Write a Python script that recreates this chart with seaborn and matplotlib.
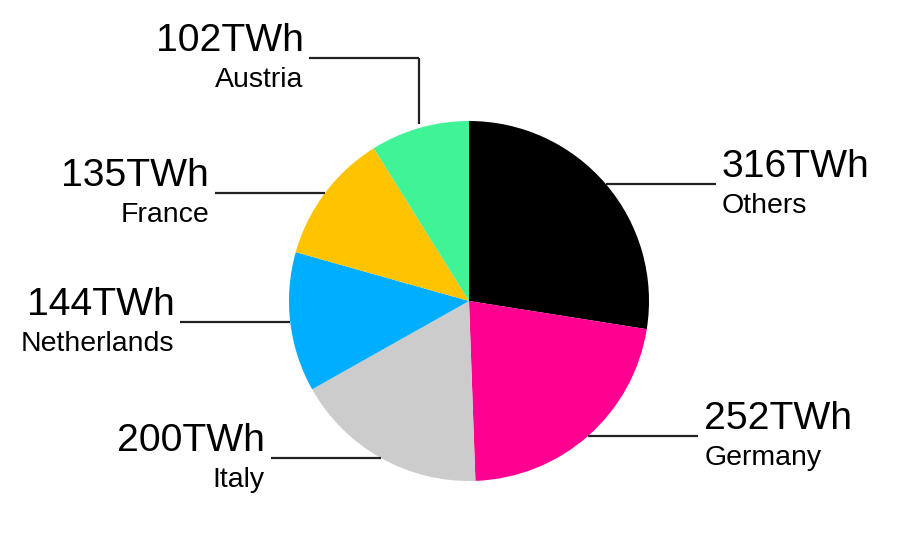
import numpy as np
import matplotlib
matplotlib.use("Agg")
import matplotlib.pyplot as plt
import seaborn as sns

categories = ["Others", "Germany", "Italy", "Netherlands", "France", "Austria"]
values = [316, 252, 200, 144, 135, 102]
value_labels = ["316TWh", "252TWh", "200TWh", "144TWh", "135TWh", "102TWh"]
colors = ["#000000", "#FF0090", "#CCCCCC", "#00AEFF", "#FFC300", "#40F396"]

sns.set_theme(style="white")
plt.rcParams["font.family"] = ["Liberation Sans", "DejaVu Sans"]

W, H = 900, 547
fig = plt.figure(figsize=(W / 100, H / 100), dpi=100)
ax = fig.add_axes([0, 0, 1, 1])

cx, cy, r = 469, H - 301, 180
wedges, _ = ax.pie(values, colors=colors, startangle=90, counterclock=False,
                   center=(cx, cy), radius=r, frame=True,
                   wedgeprops=dict(linewidth=0))
ax.set_xlim(0, W)
ax.set_ylim(0, H)
ax.set_aspect("equal")
ax.axis("off")

line_len = 110
gap = 6
big = 28.2
small = 20.5
lc = "#222222"
lw = 1.6

for w, val, cat in zip(wedges, value_labels, categories):
    mid = np.deg2rad((w.theta1 + w.theta2) / 2)
    x0 = cx + r * np.cos(mid)
    y0 = cy + r * np.sin(mid)
    left = np.cos(mid) < 0
    if np.sin(mid) > 0.9:
        ytop = cy + r + 63
        ax.plot([x0, x0], [y0 + 4, ytop], color=lc, lw=lw, solid_capstyle="butt")
        x1 = x0 - line_len
        ax.plot([x0, x1], [ytop, ytop], color=lc, lw=lw, solid_capstyle="butt")
        ly = ytop
    else:
        x1 = x0 - line_len if left else x0 + line_len
        ax.plot([x0, x1], [y0, y0], color=lc, lw=lw, solid_capstyle="butt")
        ly = y0
    if left:
        tx, ha = x1 - gap, "right"
    else:
        tx, ha = x1 + gap, "left"
    ax.text(tx, ly + 7, val, ha=ha, va="baseline", fontsize=big, color="#000000")
    ax.text(tx, ly - 29, cat, ha=ha, va="baseline", fontsize=small, color="#000000")

fig.savefig("out.png", dpi=100, facecolor="white")
